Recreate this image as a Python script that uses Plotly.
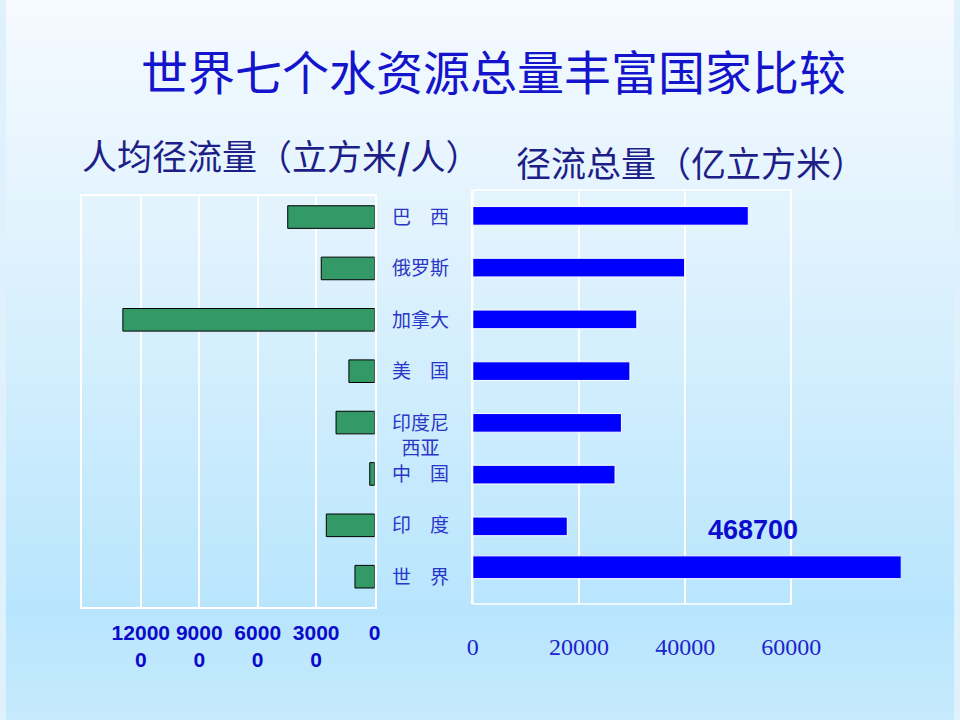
import plotly.graph_objects as go

# ---------------- data ----------------
countries = ["巴西", "俄罗斯", "加拿大", "美国", "印度尼西亚", "中国", "印度", "世界"]
country_labels = ["巴　西", "俄罗斯", "加拿大", "美　国", "印度尼<br>西亚", "中　国", "印　度", "世　界"]
per_capita = [44600, 27400, 129200, 13200, 19800, 2500, 24800, 10100]      # 立方米/人
total_runoff = [51900, 39900, 30900, 29600, 28000, 26800, 17800, 468700]   # 亿立方米

left_tickvals = [0, 30000, 60000, 90000, 120000]
left_ticktext = ["0", "3000<br>0", "6000<br>0", "9000<br>0", "12000<br>0"]
right_tickvals = [0, 20000, 40000, 60000]
right_ticktext = ["0", "20000", "40000", "60000"]

title_text = "世界七个水资源总量丰富国家比较"
sub_left = "人均径流量（立方米<b>/</b>人）"
sub_right = "径流总量（亿立方米）"

W, H = 960, 720


def X(px):
    return px / W


def Y(py):
    return 1 - py / H


fig = go.Figure()

fig.add_trace(go.Bar(
    x=per_capita, y=countries, orientation="h", xaxis="x", yaxis="y",
    marker=dict(color="#339966", line=dict(color="#000000", width=1)),
    width=0.44, showlegend=False, hoverinfo="x+y"))

r_width = [0.36] * (len(countries) - 1) + [0.44]
r_offset = [-0.18] * (len(countries) - 1) + [-0.43]
fig.add_trace(go.Bar(
    x=total_runoff, y=countries, orientation="h", xaxis="x2", yaxis="y2",
    marker=dict(color="#0000ff", line=dict(color="#ffffff", width=1)),
    width=r_width, offset=r_offset, showlegend=False, hoverinfo="x+y"))

stops = [(0.0, (245, 250, 255)), (0.35, (223, 242, 253)), (0.6, (203, 236, 253)),
         (0.85, (184, 229, 253)), (1.0, (198, 234, 252))]


def grad(t):
    for (t0, c0), (t1, c1) in zip(stops[:-1], stops[1:]):
        if t <= t1:
            f = (t - t0) / (t1 - t0) if t1 > t0 else 0
            return "rgb(%d,%d,%d)" % tuple(round(a + (b - a) * f) for a, b in zip(c0, c1))
    return "rgb(%d,%d,%d)" % stops[-1][1]


shapes = []
N = 144
for i in range(N):
    t = (i + 0.5) / N
    y_top = 1 - i / N
    y_bot = 1 - (i + 1) / N - 0.002
    shapes.append(dict(type="rect", xref="paper", yref="paper", x0=0, x1=1,
                       y0=max(y_bot, 0), y1=y_top, line=dict(width=0),
                       fillcolor=grad(t), layer="below"))

shapes.append(dict(type="rect", xref="x2", yref="y2 domain", x0=0, x1=60000, y0=0, y1=1,
                   line=dict(color="#ffffff", width=1.5), layer="below"))

cjk = "Noto Sans CJK SC"
annotations = [
    dict(text=title_text, x=X(493.5), y=Y(69), xref="paper", yref="paper",
         xanchor="center", yanchor="middle",
         showarrow=False, font=dict(family=cjk, size=47, color="#1414cc")),
    dict(text=sub_left, x=X(279), y=Y(154.5), xref="paper", yref="paper",
         xanchor="center", yanchor="middle",
         showarrow=False, font=dict(family=cjk, size=35, color="#1e1e88")),
    dict(text=sub_right, x=X(694), y=Y(161.3), xref="paper", yref="paper",
         xanchor="center", yanchor="middle",
         showarrow=False, font=dict(family=cjk, size=35, color="#1e1e88")),
    dict(text=str(total_runoff[-1]), x=X(756.5), y=Y(530), xref="paper", yref="paper",
         xanchor="center", yanchor="middle",
         showarrow=False, font=dict(family="Arial, Liberation Sans", size=27, color="#0c0cd0",
                                    weight="bold")),
]
for c, lab in zip(countries, country_labels):
    annotations.append(dict(text=lab, x=X(420), y=c, xref="paper", yref="y",
                            xanchor="center", yanchor="top", yshift=17, showarrow=False,
                            font=dict(family=cjk, size=19, color="#2a36c8")))

fig.update_layout(
    width=W, height=H, autosize=False,
    margin=dict(l=0, r=0, t=0, b=0),
    paper_bgcolor="#dff1fc", plot_bgcolor="rgba(0,0,0,0)",
    bargap=0.5,
    xaxis=dict(domain=[X(77.3), X(373.3)], range=[150000, 0], anchor="y",
               tickvals=left_tickvals, ticktext=left_ticktext, tickangle=0,
               showgrid=True, gridcolor="#ffffff", gridwidth=1.5,
               showline=True, mirror=True, linecolor="#ffffff", linewidth=1.5,
               zeroline=False, ticks="", ticklabelstandoff=6,
               tickfont=dict(family="Arial, Liberation Sans", size=21, color="#0a0acc",
                             weight="bold"), fixedrange=True),
    yaxis=dict(domain=[Y(607), Y(196)], type="category", categoryarray=countries,
               range=[7.59, -0.41], anchor="x", showticklabels=False, showgrid=False,
               showline=True, mirror=True, linecolor="#ffffff", linewidth=1.5,
               zeroline=False, ticks="", fixedrange=True),
    xaxis2=dict(domain=[X(472.7), X(906)], range=[0, 80600], anchor="y2",
                tickvals=right_tickvals, ticktext=right_ticktext, tickangle=0,
                showgrid=True, gridcolor="#ffffff", gridwidth=1.5,
                showline=False, zeroline=False, ticks="", ticklabelstandoff=26,
                tickfont=dict(family="Liberation Serif", size=24, color="#1c24cc"),
                fixedrange=True),
    yaxis2=dict(domain=[Y(604), Y(190)], type="category", categoryarray=countries,
                range=[7.5, -0.5], anchor="x2", showticklabels=False, showgrid=False,
                showline=True, linecolor="#ffffff", linewidth=1.5,
                zeroline=False, ticks="", fixedrange=True),
    shapes=shapes,
    annotations=annotations,
)

fig.write_html("out.html", config={"displayModeBar": False})
